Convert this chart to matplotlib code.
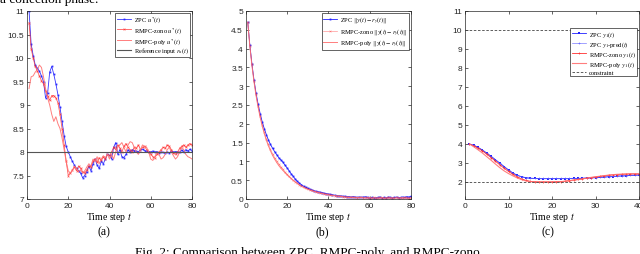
import numpy as np
import matplotlib
matplotlib.use("Agg")
import matplotlib.pyplot as plt

plt.rcParams['font.family'] = ['Liberation Serif', 'DejaVu Serif']
plt.rcParams['mathtext.fontset'] = 'stix'

# ---- panel (a): control input ----
t_a = np.arange(1, 81)
zpc_u = [11.0, 10.3, 10.05, 9.85, 9.78, 9.72, 9.62, 9.5, 9.15, 9.25,
         9.7, 9.82, 9.65, 9.45, 9.22, 8.95, 8.65, 8.35, 8.12, 8.0,
         7.9, 7.8, 7.72, 7.65, 7.6, 7.55, 7.45, 7.5, 7.58, 7.7,
         7.6, 7.75, 7.85, 7.72, 7.65, 7.8, 7.75, 7.85, 7.95, 7.93,
         7.85, 8.1, 8.2, 7.95, 8.05, 7.9, 7.88, 7.95, 8.05, 8.0,
         8.05, 8.03, 8.02, 8.0, 8.05, 8.06, 8.03, 8.02, 8.01, 8.0,
         8.02, 8.0, 8.01, 7.98, 8.0, 7.99, 7.97, 8.0, 7.98, 8.02,
         8.0, 8.01, 8.0, 7.99, 8.04, 8.0, 8.05, 8.02, 8.06, 8.03]
zono_u = [10.75, 10.2, 10.0, 9.82, 9.72, 9.62, 9.52, 9.45, 9.3, 9.2,
          9.1, 9.2, 9.2, 9.15, 9.05, 8.8, 8.5, 8.15, 7.8, 7.5,
          7.55, 7.62, 7.68, 7.6, 7.7, 7.65, 7.58, 7.55, 7.62, 7.7,
          7.68, 7.8, 7.85, 7.78, 7.88, 7.82, 7.9, 7.85, 7.95, 7.92,
          8.0, 8.1, 8.05, 8.15, 8.08, 8.0, 8.12, 8.18, 8.1, 8.05,
          8.0, 8.1, 8.08, 8.15, 8.05, 8.1, 8.12, 8.05, 8.0, 7.95,
          7.9, 7.88, 7.95, 8.0, 8.05, 8.1, 8.08, 8.15, 8.12, 8.05,
          7.98, 7.95, 8.0, 8.08, 8.12, 8.15, 8.1, 8.15, 8.18, 8.15]
poly_u = [9.35, 9.6, 9.62, 9.7, 9.75, 9.85, 9.8, 9.6, 9.35, 9.15,
          9.0, 8.8, 8.65, 8.75, 8.6, 8.5, 8.3, 8.05, 7.8, 7.6,
          7.55, 7.6, 7.7, 7.65, 7.58, 7.62, 7.55, 7.6, 7.68, 7.75,
          7.7, 7.85, 7.8, 7.9, 7.75, 7.85, 7.92, 7.88, 7.95, 7.85,
          7.95, 7.85, 8.0, 8.1, 8.15, 8.2, 8.1, 8.0, 8.15, 8.22,
          8.2, 8.1, 8.0, 7.95, 8.05, 8.15, 8.12, 8.1, 8.0, 7.85,
          7.82, 7.9, 8.0, 7.95, 7.85, 7.88, 7.95, 8.05, 8.1, 8.0,
          7.92, 7.85, 7.9, 8.0, 8.1, 8.05, 7.95, 7.9, 7.88, 7.85]
ref_u = 8.0

# ---- panel (b): tracking error ----
t_b = np.arange(1, 81)
zpc_err = [4.7, 4.1, 3.6, 3.17, 2.82, 2.52, 2.27, 2.05, 1.87, 1.71,
           1.57, 1.45, 1.35, 1.26, 1.18, 1.1, 1.04, 0.98, 0.9, 0.83,
           0.75, 0.67, 0.6, 0.53, 0.47, 0.42, 0.38, 0.34, 0.31, 0.28,
           0.26, 0.24, 0.22, 0.2, 0.19, 0.18, 0.17, 0.15, 0.14, 0.13,
           0.12, 0.11, 0.1, 0.09, 0.08, 0.08, 0.07, 0.07, 0.06, 0.06,
           0.05, 0.06, 0.05, 0.04, 0.05, 0.04, 0.05, 0.06, 0.04, 0.03,
           0.04, 0.03, 0.03, 0.04, 0.05, 0.03, 0.04, 0.03, 0.05, 0.04,
           0.03, 0.04, 0.05, 0.03, 0.04, 0.05, 0.04, 0.06, 0.05, 0.07]
zono_err = [4.7, 4.08, 3.58, 3.15, 2.78, 2.47, 2.2, 1.97, 1.77, 1.6,
            1.45, 1.32, 1.2, 1.1, 1.01, 0.93, 0.86, 0.79, 0.72, 0.66,
            0.6, 0.55, 0.5, 0.46, 0.42, 0.38, 0.35, 0.32, 0.29, 0.27,
            0.25, 0.23, 0.21, 0.19, 0.18, 0.16, 0.15, 0.14, 0.13, 0.12,
            0.11, 0.1, 0.09, 0.08, 0.08, 0.07, 0.06, 0.06, 0.05, 0.05,
            0.04, 0.05, 0.04, 0.03, 0.04, 0.05, 0.03, 0.04, 0.03, 0.02,
            0.03, 0.04, 0.02, 0.03, 0.04, 0.02, 0.03, 0.02, 0.04, 0.03,
            0.02, 0.03, 0.04, 0.02, 0.03, 0.02, 0.04, 0.03, 0.02, 0.03]
poly_err = [4.7, 4.06, 3.55, 3.12, 2.75, 2.44, 2.17, 1.94, 1.74, 1.56,
            1.41, 1.28, 1.16, 1.06, 0.97, 0.89, 0.82, 0.76, 0.7, 0.64,
            0.59, 0.54, 0.49, 0.45, 0.41, 0.37, 0.34, 0.31, 0.28, 0.26,
            0.24, 0.22, 0.2, 0.19, 0.17, 0.16, 0.15, 0.13, 0.12, 0.11,
            0.1, 0.09, 0.09, 0.08, 0.07, 0.07, 0.06, 0.05, 0.05, 0.04,
            0.05, 0.04, 0.03, 0.04, 0.03, 0.04, 0.03, 0.02, 0.03, 0.04,
            0.02, 0.03, 0.02, 0.03, 0.02, 0.04, 0.02, 0.03, 0.02, 0.03,
            0.03, 0.02, 0.03, 0.02, 0.03, 0.04, 0.02, 0.03, 0.02, 0.04]

# ---- panel (c): output y1 ----
t_c = np.arange(1, 41)
zpc_y = [4.0, 3.93, 3.82, 3.68, 3.52, 3.35, 3.17, 2.99, 2.81, 2.63,
         2.47, 2.35, 2.27, 2.22, 2.19, 2.18, 2.17, 2.17, 2.17, 2.17,
         2.17, 2.17, 2.17, 2.17, 2.18, 2.18, 2.19, 2.2, 2.21, 2.22,
         2.24, 2.25, 2.27, 2.28, 2.3, 2.31, 2.32, 2.34, 2.35, 2.36]
zpc_pred = [4.0, 3.92, 3.8, 3.66, 3.5, 3.33, 3.15, 2.97, 2.79, 2.62,
            2.46, 2.34, 2.27, 2.23, 2.2, 2.19, 2.18, 2.18, 2.18, 2.18,
            2.18, 2.18, 2.18, 2.18, 2.19, 2.19, 2.2, 2.21, 2.22, 2.23,
            2.25, 2.26, 2.28, 2.29, 2.31, 2.32, 2.33, 2.35, 2.36, 2.37]
zono_y = [4.0, 3.9, 3.78, 3.63, 3.46, 3.28, 3.09, 2.9, 2.72, 2.55,
          2.4, 2.27, 2.16, 2.08, 2.03, 2.01, 2.0, 2.0, 2.0, 2.0,
          2.01, 2.02, 2.04, 2.07, 2.1, 2.13, 2.16, 2.2, 2.23, 2.26,
          2.29, 2.32, 2.35, 2.37, 2.39, 2.4, 2.41, 2.42, 2.42, 2.42]
poly_y = [4.0, 3.85, 3.69, 3.52, 3.33, 3.14, 2.94, 2.75, 2.58, 2.44,
          2.32, 2.21, 2.12, 2.05, 2.01, 2.0, 2.0, 2.0, 2.0, 2.0,
          2.0, 2.01, 2.03, 2.06, 2.09, 2.12, 2.16, 2.2, 2.24, 2.27,
          2.3, 2.33, 2.36, 2.38, 2.4, 2.41, 2.42, 2.43, 2.43, 2.43]
y_min, y_max = 2.0, 10.0

blue = '#1f1fff'
red = '#ff3030'
light_red = '#ff7070'


def style_axes(ax):
    ax.tick_params(direction='in', top=True, right=True, length=2.5,
                   width=0.5, labelsize=6, pad=2, colors='#262626')
    for lab in ax.get_xticklabels() + ax.get_yticklabels():
        lab.set_family('Liberation Sans')
    for sp in ax.spines.values():
        sp.set_linewidth(0.5)
        sp.set_color('#262626')
    ax.set_xlabel('Time step $t$', fontsize=7, labelpad=1)


def legend(ax, **kw):
    lg = ax.legend(loc='upper right', fontsize=4.6, fancybox=False,
                   framealpha=1, edgecolor='#262626', handlelength=2.2,
                   borderpad=0.25, labelspacing=0.1, handletextpad=0.4,
                   borderaxespad=0.3, **kw)
    lg.get_frame().set_linewidth(0.5)


fig = plt.figure(figsize=(6.4, 2.55), dpi=100)

# (a)
ax1 = fig.add_axes([27 / 640, 1 - 200 / 255, 165 / 640, 188 / 255])
ax1.plot(t_a, zpc_u, color=blue, lw=0.6, marker='s', ms=1.3, mew=0, alpha=0.9,
         label='ZPC $u^{*}(t)$')
ax1.plot(t_a, zono_u, color=red, lw=0.6, marker='x', ms=1.3, mew=0.5,
         alpha=0.8, label='RMPC-zono $u^{*}(t)$')
ax1.plot(t_a, poly_u, color=light_red, lw=0.7, alpha=0.9,
         label='RMPC-poly $u^{*}(t)$')
ax1.axhline(ref_u, color='#555555', lw=0.8, label='Reference input $r_u(t)$')
ax1.set_xlim(0, 80)
ax1.set_ylim(7, 11)
ax1.set_xticks([0, 20, 40, 60, 80])
ax1.set_yticks(np.arange(7, 11.01, 0.5))
ax1.set_yticklabels(['7', '7.5', '8', '8.5', '9', '9.5', '10', '10.5', '11'])
style_axes(ax1)
legend(ax1)

# (b)
ax2 = fig.add_axes([245.7 / 640, 1 - 200 / 255, 165.3 / 640, 188 / 255])
ax2.plot(t_b, zpc_err, color=blue, lw=0.6, marker='s', ms=1.3, mew=0,
         label=r'ZPC $\|y(t)-r_y(t)\|$')
ax2.plot(t_b, zono_err, color=red, lw=0.5, marker='x', ms=1.3, mew=0.4,
         alpha=0.5, label=r'RMPC-zono $\|y(t)-r_y(t)\|$')
ax2.plot(t_b, poly_err, color=light_red, lw=0.7, alpha=0.9,
         label=r'RMPC-poly $\|y(t)-r_y(t)\|$')
ax2.set_xlim(0, 80)
ax2.set_ylim(0, 5)
ax2.set_xticks([0, 20, 40, 60, 80])
ax2.set_yticks(np.arange(0, 5.01, 0.5))
ax2.set_yticklabels(['0', '0.5', '1', '1.5', '2', '2.5', '3', '3.5', '4', '4.5', '5'])
style_axes(ax2)
legend(ax2)

# (c)
ax3 = fig.add_axes([465 / 640, 1 - 200 / 255, 174 / 640, 188 / 255])
ax3.plot(t_c, zpc_y, color=blue, lw=0.6, marker='s', ms=1.6, mew=0,
         label='ZPC $y_1(t)$')
ax3.plot(t_c, zpc_pred, color='#5a5aff', lw=0.5, marker='+', ms=2, mew=0.5,
         alpha=0.8, label='ZPC $y_1$-pred$(t)$')
ax3.plot(t_c, zono_y, color=red, lw=0.6, marker='+', ms=2, mew=0.5,
         label='RMPC-zono $y_1(t)$')
ax3.plot(t_c, poly_y, color=light_red, lw=0.8, alpha=0.9,
         label='RMPC-poly $y_1(t)$')
ax3.axhline(y_min, color='#444444', lw=0.6, ls='--', dashes=(3, 2),
            label='constraint')
ax3.axhline(y_max, color='#444444', lw=0.6, ls='--', dashes=(3, 2))
ax3.set_xlim(0, 40)
ax3.set_ylim(1.1, 11)
ax3.set_xticks([0, 10, 20, 30, 40])
ax3.set_yticks(np.arange(2, 12))
style_axes(ax3)
legend(ax3, bbox_to_anchor=(1.0, 0.92))

# sub-captions and figure caption
fig.text(104 / 640, 1 - 232 / 255, '(a)', ha='center', va='center', fontsize=8.5)
fig.text(322 / 640, 1 - 232 / 255, '(b)', ha='center', va='center', fontsize=8.5)
fig.text(548 / 640, 1 - 232 / 255, '(c)', ha='center', va='center', fontsize=8.5)
fig.text(135 / 640, 1 - 247 / 255,
         'Fig. 2: Comparison between ZPC, RMPC-poly, and RMPC-zono.',
         ha='left', va='top', fontsize=9.5)
fig.text(0, 1 - 3 / 255, 'a collection phase.', ha='left', va='baseline',
         fontsize=9.5)

fig.savefig('out.png', dpi=100)
